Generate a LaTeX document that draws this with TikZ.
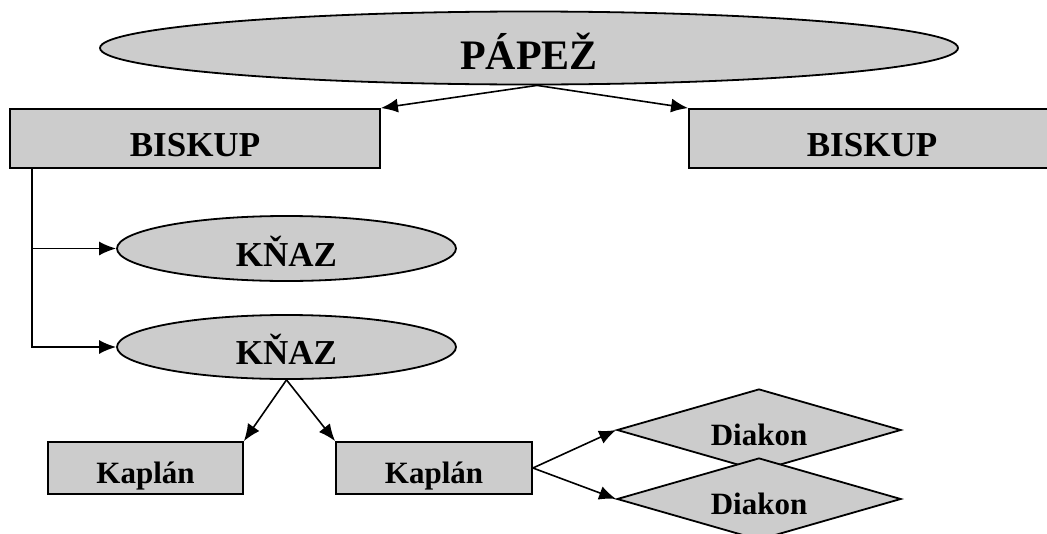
\documentclass[tikz,border=0pt]{standalone}
\usepackage{fontspec}
\setmainfont{Liberation Serif}
\usetikzlibrary{shapes.geometric,arrows.meta}
\newcommand{\bigfont}{\bfseries\fontsize{42}{50}\selectfont}
\newcommand{\midfont}{\bfseries\fontsize{35}{42}\selectfont}
\newcommand{\smallfont}{\bfseries\fontsize{31}{37}\selectfont}
\begin{document}
\begin{tikzpicture}[x=1pt,y=-1pt,line width=1.8pt,
  box/.style={draw,fill=black!20,inner sep=0pt},
  oval/.style={box,ellipse},
  kite/.style={box,diamond,aspect=3.46},
  bigtext/.style={font=\bigfont,text height=46pt,text depth=4pt},
  midtext/.style={font=\midfont,text height=38.5pt,text depth=3.5pt},
  smalltext/.style={font=\smallfont,text height=34pt,text depth=3pt},
  arr/.style={line width=1.6pt,-{Latex[length=17pt,width=14pt]}}]
\useasboundingbox(0,0)rectangle(1047,533);
\clip(0,0)rectangle(1047,533);
\node[oval,minimum width=858pt,minimum height=73pt,bigtext](pap)at(529,48){PÁPEŽ};
\node[box,minimum width=370pt,minimum height=59pt,midtext](bisL)at(195,138.5){BISKUP};
\node[box,minimum width=366pt,minimum height=59pt,midtext](bisR)at(872,138.5){BISKUP};
\node[oval,minimum width=339pt,minimum height=65pt,midtext](kn1)at(286.5,248.5){KŇAZ};
\node[oval,minimum width=339pt,minimum height=64pt,midtext](kn2)at(286.5,347){KŇAZ};
\node[box,minimum width=195pt,minimum height=52pt,smalltext](kapL)at(145.5,468){Kaplán};
\node[box,minimum width=196pt,minimum height=52pt,smalltext](kapR)at(434,468){Kaplán};
\node[kite,minimum width=284pt,minimum height=82pt,smalltext](dia1)at(759,430){Diakon};
\node[kite,minimum width=284pt,minimum height=82pt,smalltext](dia2)at(759,499){Diakon};
\draw[arr]([xshift=8pt]pap.south)--(bisL.north east);
\draw[arr]([xshift=8pt]pap.south)--(bisR.north west);
\foreach \k in {kn1,kn2}\draw[arr]([xshift=23pt]bisL.south west)|-(\k.west);
\foreach \k/\a in {kapL/north east,kapR/north west}\draw[arr](kn2.south)--(\k.\a);
\foreach \d in {dia1,dia2}\draw[arr](kapR.east)--(\d.west);
\end{tikzpicture}
\end{document}
